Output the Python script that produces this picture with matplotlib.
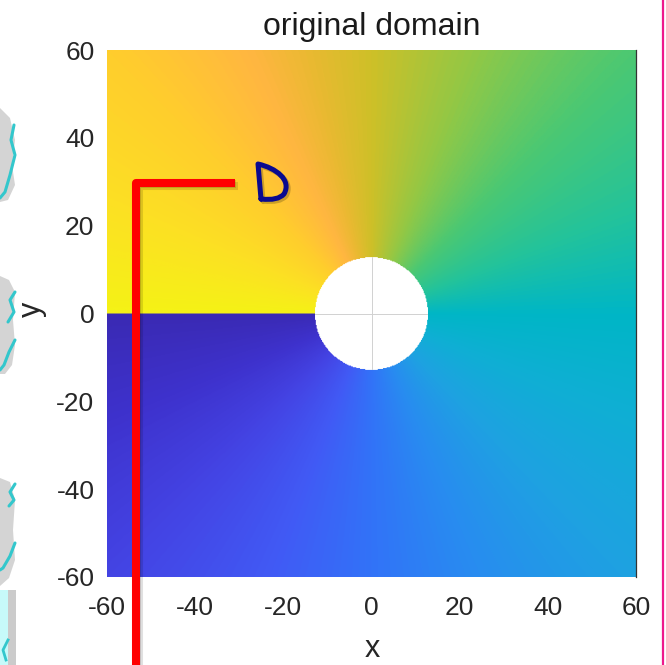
import numpy as np
import matplotlib
matplotlib.use("Agg")
import matplotlib.pyplot as plt
from matplotlib.colors import LinearSegmentedColormap
from matplotlib.path import Path
from matplotlib.patches import PathPatch, Polygon, Rectangle
import matplotlib.patheffects as pe

# ---- data ----
x_limits = [-60, 60]
y_limits = [-60, 60]
hole_radius = 12.8
grid_points = 600
x_ticks = [-60, -40, -20, 0, 20, 40, 60]
y_ticks = [-60, -40, -20, 0, 20, 40, 60]
x_tick_labels = ["-60", "-40", "-20", "0", "20", "40", "60"]
y_tick_labels = ["-60", "-40", "-20", "0", "20", "40", "60"]
title_text = "original domain"
x_label = "x"
y_label = "y"

# ---- colormap (parula-like, as rendered in the reference) ----
cmap_pos = [0.0, 0.06, 0.125, 0.19, 0.25, 0.31, 0.375, 0.44, 0.5, 0.56,
            0.625, 0.69, 0.75, 0.79, 0.82, 0.875, 0.94, 1.0]
cmap_rgb = [(58, 42, 180), (62, 50, 205), (68, 68, 228), (65, 90, 245),
            (50, 115, 248), (40, 140, 240), (30, 162, 225), (15, 175, 212),
            (0, 182, 198), (35, 195, 155), (75, 200, 115), (145, 200, 70),
            (205, 192, 40), (235, 185, 50), (255, 182, 65), (255, 205, 45),
            (252, 225, 35), (245, 242, 22)]
cmap = LinearSegmentedColormap.from_list(
    "parula_like", [(p, tuple(c / 255 for c in rgb)) for p, rgb in zip(cmap_pos, cmap_rgb)])
cmap.set_bad((1, 1, 1, 0))

plt.rcParams['font.family'] = ['Liberation Sans', 'DejaVu Sans']

W, H = 666, 665
fig = plt.figure(figsize=(W / 100, H / 100), dpi=100)
fig.patch.set_facecolor("white")

ax_l, ax_r, ax_t, ax_b = 107, 636, 50, 577
ax = fig.add_axes([ax_l / W, 1 - ax_b / H, (ax_r - ax_l) / W, (ax_b - ax_t) / H])

xs = np.linspace(x_limits[0], x_limits[1], grid_points)
ys = np.linspace(y_limits[0], y_limits[1], grid_points)
X, Y = np.meshgrid(xs, ys)
theta = np.arctan2(Y, X)
theta = np.ma.masked_where(np.hypot(X, Y) < hole_radius, theta)

ax.set_axisbelow(True)
ax.grid(True, color=(0.82, 0.82, 0.82), linewidth=0.7)
ax.imshow(theta, extent=[x_limits[0], x_limits[1], y_limits[0], y_limits[1]],
          origin="lower", cmap=cmap, vmin=-np.pi, vmax=np.pi,
          interpolation="bilinear", zorder=1, aspect="auto")
ax.set_xlim(x_limits)
ax.set_ylim(y_limits)
ax.set_xticks(x_ticks)
ax.set_xticklabels(x_tick_labels)
ax.set_yticks(y_ticks)
ax.set_yticklabels(y_tick_labels)
tc = (0.15, 0.15, 0.15)
ax.tick_params(axis="x", length=0, pad=14, labelsize=19, labelcolor=tc)
ax.tick_params(axis="y", length=0, pad=9, labelsize=19, labelcolor=tc)
for s in ["left", "bottom", "top"]:
    ax.spines[s].set_visible(False)
ax.spines["right"].set_color((0.2, 0.2, 0.2))
ax.spines["right"].set_linewidth(0.9)
ax.spines["right"].set_zorder(3)

fig.text(371.5 / W, 1 - 35 / H, title_text, ha="center", va="baseline",
         fontsize=23, color=(0.1, 0.1, 0.1))
fig.text(372 / W, 1 - 657 / H, x_label, ha="center", va="baseline",
         fontsize=22, color=tc)
fig.text(32 / W, 1 - 309 / H, y_label, ha="center", va="center", rotation=90,
         fontsize=22, color=tc)

# ---- overlay (slide annotations) in pixel coordinates ----
ov = fig.add_axes([0, 0, 1, 1], zorder=10)
ov.set_xlim(0, W)
ov.set_ylim(H, 0)
ov.axis("off")
ov.patch.set_alpha(0)

# pink border on the right
ov.plot([663, 663], [0, H], color=(0.93, 0.1, 0.55), lw=1.6)

# gray blobs with cyan squiggles on the left edge
gray = (0.83, 0.83, 0.83)
cyan = (0.2, 0.78, 0.8)
blobs = [
    [(0, 108), (10, 118), (15, 140), (12, 165), (15, 185), (8, 200), (0, 202)],
    [(0, 276), (9, 280), (15, 292), (13, 320), (15, 345), (12, 365), (5, 374), (0, 374)],
    [(0, 478), (10, 482), (15, 500), (13, 530), (15, 560), (9, 578), (0, 586)],
]
for b in blobs:
    ov.add_patch(Polygon(b, closed=True, facecolor=gray, edgecolor="none"))
squiggles = [
    [(14, 125), (11, 140), (15, 155), (10, 175), (5, 192), (0, 198)],
    [(15, 292), (10, 300), (14, 312), (8, 322)],
    [(15, 340), (9, 352), (4, 365), (0, 370)],
    [(15, 484), (10, 492), (14, 500), (9, 506)],
    [(15, 543), (10, 556), (3, 568), (0, 570)],
]
for sq in squiggles:
    sx, sy = zip(*sq)
    ov.plot(sx, sy, color=cyan, lw=2.2, solid_capstyle="round")
ov.add_patch(Rectangle((8, 590), 8, 75, facecolor=(0.6, 0.6, 0.6), edgecolor="none", alpha=0.5))
ov.add_patch(Rectangle((0, 590), 8, 75, facecolor=(0.78, 0.98, 0.98), edgecolor="none"))
ov.plot([8, 3, 6], [640, 650, 660], color=cyan, lw=2)

# red L-shaped marker with soft shadow
soft_shadow = [pe.SimpleLineShadow(offset=(1.8, -1.8), shadow_color="black", alpha=0.12),
               pe.SimpleLineShadow(offset=(1.0, -1.0), shadow_color="black", alpha=0.12),
               pe.Normal()]
ov.plot([136, 136, 235], [H + 5, 183, 183], color=(1, 0, 0), lw=5.8,
        solid_joinstyle="round", solid_capstyle="butt", path_effects=soft_shadow,
        clip_on=False)

# hand-drawn "D"
verts = [(261, 199), (258, 164),
         (276, 168), (292, 180), (284, 194),
         (278, 201), (261, 199)]
codes = [Path.MOVETO, Path.LINETO,
         Path.CURVE4, Path.CURVE4, Path.CURVE4,
         Path.CURVE3, Path.CURVE3]
dpatch = PathPatch(Path(verts, codes), facecolor="none", edgecolor=(0.04, 0.04, 0.56),
                   lw=3.6, joinstyle="round", capstyle="round",
                   path_effects=[pe.SimpleLineShadow(offset=(1.5, -1.5), shadow_color="black", alpha=0.2),
                                 pe.Normal()])
ov.add_patch(dpatch)

fig.savefig("out.png", dpi=100)
